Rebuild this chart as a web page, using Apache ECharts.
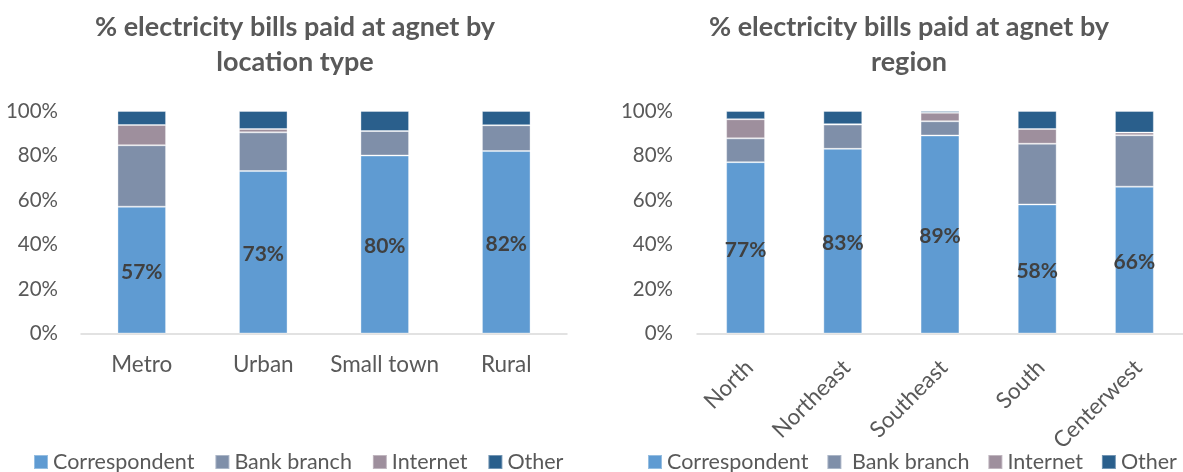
<!DOCTYPE html>
<html>
<head>
<meta charset="utf-8">
<script src="https://cdn.jsdelivr.net/npm/echarts@6/dist/echarts.min.js"></script>
<style>
  html, body { margin: 0; padding: 0; background: #fff; }
  #chart { width: 1183px; height: 472px; }
</style>
</head>
<body>
<div id="chart"></div>
<script>
// Share of electricity bills paid, by channel (%)
const seriesNames = ['Correspondent', 'Bank branch', 'Internet', 'Other'];

const locationCategories = ['Metro', 'Urban', 'Small town', 'Rural'];
const locationCorrespondent = [57, 73, 80, 82];
const locationBankBranch = [27.6, 17.4, 11, 11.6];
const locationInternet = [9.1, 1.5, 0, 0];
const locationOther = [6.3, 8.1, 9, 6.4];

const regionCategories = ['North', 'Northeast', 'Southeast', 'South', 'Centerwest'];
const regionCorrespondent = [77, 83, 89, 58, 66];
const regionBankBranch = [10.7, 10.9, 6.4, 27.3, 23.1];
const regionInternet = [8.6, 0.2, 3.8, 6.6, 1.2];
const regionOther = [3.7, 5.9, 0.8, 8.1, 9.7];

const yTicks = { min: 0, max: 100, interval: 20 };

const colors = ['#5F9BD2', '#7F8FA9', '#9E8F9D', '#2A5F8C'];
const FONT = 'Lato';
const TEXT = '#595959';

function buildSeries(gridIdx, stackName, cols) {
  return cols.map((data, i) => ({
    name: seriesNames[i],
    type: 'bar',
    stack: stackName,
    xAxisIndex: gridIdx,
    yAxisIndex: gridIdx,
    barWidth: '40%',
    data: data,
    itemStyle: { color: colors[i], borderColor: 'rgba(255,255,255,0.35)', borderWidth: 1 },
    label: i === 0 ? {
      show: true,
      position: 'inside',
      offset: [0, 2],
      formatter: '{c}%',
      fontFamily: FONT,
      fontWeight: 'bold',
      fontSize: 21,
      color: '#404040'
    } : { show: false },
    emphasis: { disabled: true }
  }));
}

function yAxis(gridIdx, margin) {
  return {
    type: 'value',
    gridIndex: gridIdx,
    min: yTicks.min, max: yTicks.max, interval: yTicks.interval,
    axisLine: { show: false },
    axisTick: { show: false },
    splitLine: { show: false },
    axisLabel: { formatter: '{value}%', color: TEXT, fontFamily: FONT, fontSize: 20.5, margin: margin }
  };
}

const legendCommon = {
  data: seriesNames,
  top: 451,
  padding: 0,
  width: 560,
  itemWidth: 14,
  itemHeight: 14,
  icon: 'rect',
  textStyle: { color: TEXT, fontFamily: FONT, fontSize: 21.5 },
  itemGap: 20
};

const chart = echarts.init(document.getElementById('chart'), null, { renderer: 'canvas' });
chart.setOption({
  animation: false,
  backgroundColor: '#fff',
  title: [
    {
      text: '% electricity bills paid at agnet by\nlocation type',
      left: 290, top: 5, textAlign: 'center',
      textStyle: { color: TEXT, fontFamily: FONT, fontWeight: 'bold', fontSize: 27, lineHeight: 35 }
    },
    {
      text: '% electricity bills paid at agnet by\nregion',
      left: 904, top: 5, textAlign: 'center',
      textStyle: { color: TEXT, fontFamily: FONT, fontWeight: 'bold', fontSize: 27, lineHeight: 35 }
    }
  ],
  legend: [
    Object.assign({}, legendCommon, { left: 33 }),
    Object.assign({}, legendCommon, {
      left: 647,
      itemGap: 18,
      formatter: name => (name === 'Bank branch' ? ' ' + name : name)
    })
  ],
  grid: [
    { left: 81, right: 616, top: 111, bottom: 138.5, containLabel: false },
    { left: 697, right: 0, top: 111, bottom: 138.5, containLabel: false }
  ],
  xAxis: [
    {
      type: 'category', gridIndex: 0, data: locationCategories,
      axisLine: { lineStyle: { color: '#D9D9D9', width: 1.5 } },
      axisTick: { show: false },
      axisLabel: { color: TEXT, fontFamily: FONT, fontSize: 22.5, margin: 20, interval: 0 }
    },
    {
      type: 'category', gridIndex: 1, data: regionCategories,
      axisLine: { lineStyle: { color: '#D9D9D9', width: 1.5 } },
      axisTick: { show: false },
      axisLabel: {
        color: TEXT, fontFamily: FONT, fontSize: 22.5, margin: 18, interval: 0, rotate: 45,
        verticalAlign: 'top', padding: [0, 6, 0, 0]
      }
    }
  ],
  yAxis: [yAxis(0, 23), yAxis(1, 24)],
  series: [
    ...buildSeries(0, 'loc', [locationCorrespondent, locationBankBranch, locationInternet, locationOther]),
    ...buildSeries(1, 'reg', [regionCorrespondent, regionBankBranch, regionInternet, regionOther])
  ]
});
</script>
</body>
</html>
